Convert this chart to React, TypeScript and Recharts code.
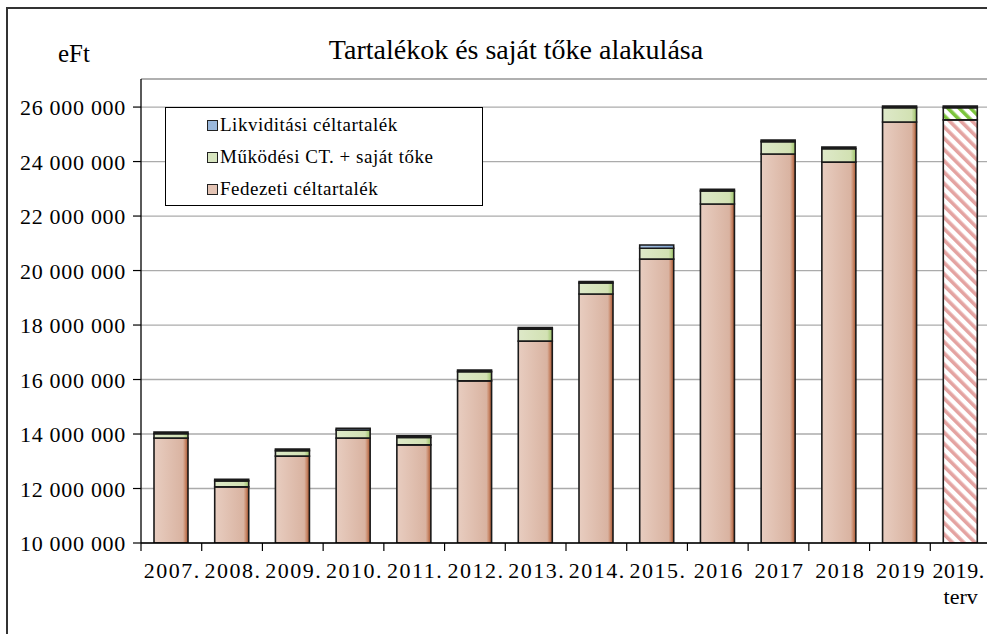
import React from 'react';
import { BarChart, Bar, XAxis, YAxis, CartesianGrid, Cell, Legend, ReferenceLine } from 'recharts';

const categories = ['2007.', '2008.', '2009.', '2010.', '2011.', '2012.', '2013.', '2014.', '2015.', '2016', '2017', '2018', '2019', '2019. terv'];
const fedezeti = [13850000, 12060000, 13190000, 13850000, 13600000, 15950000, 17410000, 19140000, 20420000, 22440000, 24280000, 23980000, 25450000, 25530000];
const mukodesi = [160000, 220000, 200000, 300000, 270000, 340000, 440000, 400000, 400000, 480000, 450000, 490000, 530000, 450000];
const likviditasi = [60000, 60000, 60000, 60000, 60000, 60000, 60000, 60000, 120000, 60000, 60000, 60000, 60000, 60000];
const yTicks = [10000000, 12000000, 14000000, 16000000, 18000000, 20000000, 22000000, 24000000, 26000000];
const planIndex = 13;

const seriesNames = {
  fed: 'Fedezeti céltartalék',
  muk: 'Működési CT. + saját tőke',
  lik: 'Likviditási céltartalék',
};

const data = categories.map((c, i) => ({
  name: c,
  fed: fedezeti[i],
  muk: mukodesi[i],
  lik: likviditasi[i],
}));

const FONT = 'Liberation Serif';
const CHART_W = 1000;
const CHART_H = 634;
const MARGIN = { top: 79, right: 9, bottom: 41, left: 0 };
const Y_W = 141;
const X_H = 50;
const PLOT_W = CHART_W - MARGIN.left - MARGIN.right - Y_W;
const BAND = PLOT_W / categories.length;
const AXIS_Y = CHART_H - MARGIN.bottom - X_H;

const fmt = (v: number) => String(v).replace(/\B(?=(\d{3})+(?!\d))/g, ' ');

const XTick = (props: any) => {
  const { x, payload, index } = props;
  const parts = String(payload.value).split(' ');
  const lx = x - BAND / 2;
  const isLast = index === categories.length - 1;
  return (
    <g>
      <line x1={lx} x2={lx} y1={AXIS_Y} y2={AXIS_Y + 8} stroke="#000" strokeWidth={1.2} />
      <text
        x={isLast ? x - 2 : x + 1}
        y={AXIS_Y + 35}
        textAnchor="middle"
        fontFamily={FONT}
        fontSize={22}
        letterSpacing={isLast ? 0.6 : 1.5}
        fill="#000"
      >
        {parts[0]}
      </text>
      {parts[1] ? (
        <text x={x} y={AXIS_Y + 61} textAnchor="middle" fontFamily={FONT} fontSize={22} fill="#000">
          {parts[1]}
        </text>
      ) : null}
    </g>
  );
};

const YTick = (props: any) => {
  const { x, y, payload } = props;
  return (
    <text x={x} y={y} dy={8} textAnchor="end" fontFamily={FONT} fontSize={22} letterSpacing={0.7} fill="#000">
      {fmt(payload.value)}
    </text>
  );
};

const legendItems = [
  { key: 'lik', color: '#9AB8DC' },
  { key: 'muk', color: '#D7E5BF' },
  { key: 'fed', color: '#E3C3B4' },
];

const renderLegend = () => (
  <div
    style={{
      boxSizing: 'border-box',
      width: 318,
      height: 99,
      border: '1.5px solid #000',
      background: '#fff',
      paddingTop: 1,
      fontFamily: FONT,
    }}
  >
    {legendItems.map((it) => (
      <div key={it.key} style={{ display: 'flex', alignItems: 'center', height: 32, paddingLeft: 41 }}>
        <span
          style={{
            display: 'inline-block',
            width: 9,
            height: 9,
            border: '1.5px solid #222',
            background: it.color,
            marginRight: 2,
          }}
        />
        <span style={{ fontSize: 19, letterSpacing: 0.5, color: '#000' }}>{(seriesNames as any)[it.key]}</span>
      </div>
    ))}
  </div>
);

export default function App() {
  return (
    <div style={{ position: 'absolute', left: 0, top: 0, width: 987, height: 634, overflow: 'hidden', background: '#fff', fontFamily: FONT }}>
      <div
        style={{
          position: 'absolute',
          left: 6,
          top: 7,
          width: 1100,
          height: 800,
          border: '2px solid #333',
          boxSizing: 'border-box',
        }}
      />
      <div
        style={{
          position: 'absolute',
          left: 316,
          width: 400,
          top: 36,
          textAlign: 'center',
          fontFamily: FONT,
          fontSize: 28,
          lineHeight: 1,
          color: '#000',
          whiteSpace: 'nowrap',
        }}
      >
        Tartalékok és saját tőke alakulása
      </div>
      <div
        style={{
          position: 'absolute',
          left: 58,
          top: 41,
          fontFamily: FONT,
          fontSize: 25,
          lineHeight: 1,
          color: '#000',
        }}
      >
        eFt
      </div>
      <div style={{ position: 'absolute', left: 0, top: 0 }}>
        <BarChart width={CHART_W} height={CHART_H} data={data} margin={MARGIN} barSize={34} barGap={0}>
          <defs>
            <linearGradient id="gFed" x1="0" y1="0" x2="1" y2="0">
              <stop offset="0%" stopColor="#E8CDC0" />
              <stop offset="85%" stopColor="#D9B3A1" />
              <stop offset="91%" stopColor="#CC9073" />
              <stop offset="100%" stopColor="#A9552F" />
            </linearGradient>
            <linearGradient id="gMuk" x1="0" y1="0" x2="1" y2="0">
              <stop offset="0%" stopColor="#DEE9C9" />
              <stop offset="85%" stopColor="#D2E1B3" />
              <stop offset="100%" stopColor="#9CC266" />
            </linearGradient>
            <linearGradient id="gLik" x1="0" y1="0" x2="1" y2="0">
              <stop offset="0%" stopColor="#A9C3E2" />
              <stop offset="100%" stopColor="#7FA3D0" />
            </linearGradient>
            <pattern id="hFed" width="8" height="8" patternUnits="userSpaceOnUse" patternTransform="rotate(-45)">
              <rect width="8" height="8" fill="#fff" />
              <rect width="3.6" height="8" fill="#E4A3A1" />
            </pattern>
            <pattern id="hMuk" width="8" height="8" patternUnits="userSpaceOnUse" patternTransform="rotate(-45)">
              <rect width="8" height="8" fill="#fff" />
              <rect width="3.6" height="8" fill="#7CC43C" />
            </pattern>
          </defs>
          <CartesianGrid vertical={false} stroke="#ABABAB" strokeWidth={1.3} />
          <ReferenceLine y={27030000} stroke="#ABABAB" strokeWidth={1.3} />
          <XAxis
            dataKey="name"
            height={X_H}
            interval={0}
            axisLine={{ stroke: '#000', strokeWidth: 1.3 }}
            tickLine={false}
            tick={<XTick />}
          />
          <YAxis
            width={Y_W}
            domain={[10000000, 27030000]}
            ticks={yTicks}
            allowDataOverflow
            axisLine={{ stroke: '#000', strokeWidth: 1.3 }}
            tickLine={{ stroke: '#000', strokeWidth: 1.2 }}
            tickSize={8}
            tickMargin={7}
            tick={<YTick />}
          />
          <Legend
            layout="vertical"
            align="center"
            verticalAlign="middle"
            wrapperStyle={{ left: 165, top: 107, width: 318, height: 99 }}
            content={renderLegend}
          />
          <Bar dataKey="fed" name={seriesNames.fed} stackId="a" stroke="#1A1A1A" strokeWidth={1.6} isAnimationActive={false}>
            {data.map((d, i) => (
              <Cell key={d.name} fill={i === planIndex ? 'url(#hFed)' : 'url(#gFed)'} />
            ))}
          </Bar>
          <Bar dataKey="muk" name={seriesNames.muk} stackId="a" stroke="#1A1A1A" strokeWidth={1.6} isAnimationActive={false}>
            {data.map((d, i) => (
              <Cell key={d.name} fill={i === planIndex ? 'url(#hMuk)' : 'url(#gMuk)'} />
            ))}
          </Bar>
          <Bar dataKey="lik" name={seriesNames.lik} stackId="a" stroke="#1A1A1A" strokeWidth={1.6} fill="url(#gLik)" isAnimationActive={false} />
        </BarChart>
      </div>
    </div>
  );
}
